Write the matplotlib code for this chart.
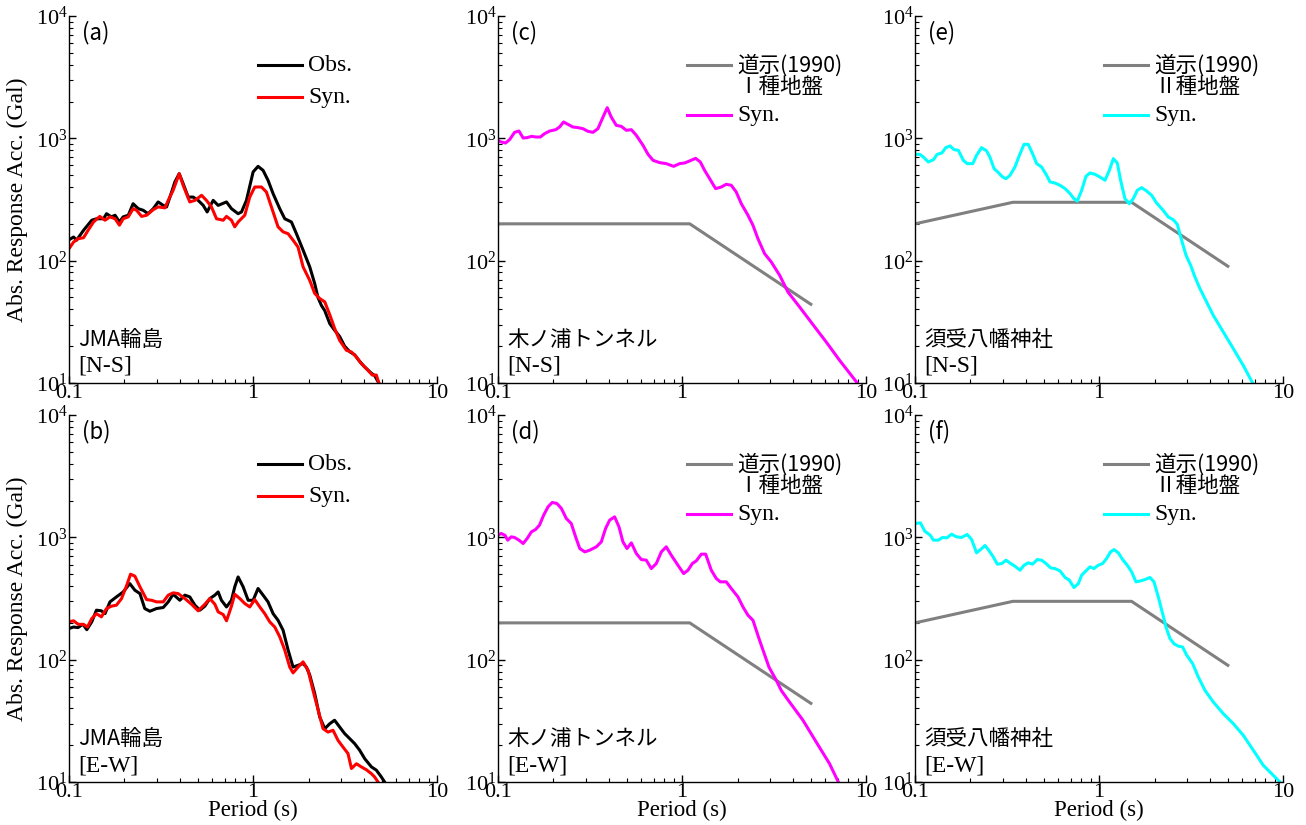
import matplotlib
matplotlib.use('Agg')
from matplotlib import pyplot as plt
from matplotlib.lines import Line2D

# ---- data (period in s, absolute response acceleration in Gal) ----
obs_a_T = [0.100, 0.106, 0.110, 0.120, 0.133, 0.141, 0.154, 0.160, 0.170, 0.178, 0.188, 0.197, 0.210, 0.223, 0.238, 0.253,
           0.269, 0.287, 0.305, 0.325, 0.339, 0.361, 0.376, 0.397, 0.417, 0.444, 0.473, 0.503, 0.536, 0.563, 0.607, 0.646,
           0.717, 0.763, 0.829, 0.865, 0.920, 1.000, 1.064, 1.133, 1.205, 1.284, 1.395, 1.486, 1.615, 1.719, 1.868, 2.03,
           2.16, 2.25, 2.35, 2.45, 2.61, 2.77, 2.95, 3.14, 3.35, 3.56, 3.79, 4.04, 4.39, 4.57, 4.83]
obs_a_S = [148, 156, 147, 177, 214, 220, 220, 242, 228, 235, 207, 228, 235, 292, 266, 258,
           242, 266, 302, 283, 275, 364, 440, 514, 426, 331, 331, 311, 283, 250, 311, 283,
           302, 266, 242, 250, 311, 531, 590, 547, 454, 353, 266, 220, 207, 166, 122, 89,
           65, 50, 43, 39, 30.5, 27, 24, 20, 18, 17, 15, 13.5, 12, 11.5, 9.9]
syn_a_T = [0.100, 0.106, 0.112, 0.120, 0.127, 0.136, 0.147, 0.157, 0.167, 0.178, 0.188, 0.197, 0.210, 0.223, 0.233, 0.248,
           0.264, 0.287, 0.305, 0.332, 0.346, 0.368, 0.397, 0.417, 0.453, 0.483, 0.525, 0.558, 0.594, 0.633, 0.688, 0.717,
           0.763, 0.795, 0.829, 0.901, 0.959, 1.021, 1.110, 1.181, 1.257, 1.366, 1.455, 1.549, 1.648, 1.754, 1.868, 2.03,
           2.16, 2.30, 2.45, 2.61, 2.77, 2.95, 3.21, 3.42, 3.64, 3.87, 4.12, 4.44, 4.67, 4.83]
syn_a_S = [125, 142, 151, 154, 177, 207, 230, 214, 228, 220, 195, 220, 228, 266, 258, 230,
           235, 261, 275, 270, 311, 376, 514, 413, 302, 311, 342, 311, 275, 220, 214, 230,
           214, 189, 207, 235, 331, 400, 400, 364, 275, 189, 172, 166, 147, 129, 89, 69,
           54, 49, 46, 36, 28, 22.3, 18.5, 17.9, 16.3, 14.4, 13.1, 11.6, 11.6, 9.9]

obs_b_T = [0.100, 0.106, 0.112, 0.119, 0.125, 0.133, 0.141, 0.150, 0.157, 0.167, 0.181, 0.197, 0.214, 0.228, 0.243, 0.258,
           0.275, 0.299, 0.325, 0.346, 0.368, 0.400, 0.426, 0.453, 0.483, 0.514, 0.547, 0.582, 0.620, 0.646, 0.673, 0.717,
           0.763, 0.795, 0.829, 0.883, 0.940, 1.000, 1.064, 1.133, 1.205, 1.284, 1.366, 1.455, 1.549, 1.648, 1.754, 1.868,
           1.947, 2.03, 2.16, 2.30, 2.45, 2.61, 2.77, 2.95, 3.14, 3.35, 3.56, 3.79, 4.04, 4.39, 4.67, 4.97, 5.18]
obs_b_S = [180, 185, 183, 195, 176, 204, 254, 251, 238, 297, 326, 358, 419, 370, 347, 262,
           249, 262, 267, 297, 343, 306, 337, 326, 279, 254, 274, 316, 337, 358, 306, 270,
           306, 394, 475, 394, 306, 306, 382, 337, 297, 238, 210, 174, 120, 87, 90, 93,
           87, 75, 53, 34, 27.3, 30, 32, 28.2, 24.9, 22.6, 20.6, 18.2, 15.5, 13.3, 12.5, 11.0, 10.0]
syn_b_T = [0.100, 0.106, 0.112, 0.120, 0.126, 0.133, 0.141, 0.150, 0.160, 0.170, 0.181, 0.193, 0.206, 0.216, 0.228, 0.243,
           0.264, 0.281, 0.299, 0.325, 0.346, 0.368, 0.392, 0.426, 0.463, 0.503, 0.547, 0.582, 0.620, 0.646, 0.688, 0.717,
           0.763, 0.795, 0.847, 0.901, 0.959, 1.021, 1.087, 1.157, 1.231, 1.311, 1.395, 1.485, 1.581, 1.648, 1.754, 1.868,
           1.988, 2.116, 2.253, 2.398, 2.552, 2.716, 2.892, 3.078, 3.276, 3.42, 3.64, 3.87, 4.12, 4.39, 4.57, 4.77]
syn_b_S = [204, 208, 195, 194, 185, 217, 238, 224, 262, 274, 279, 316, 406, 500, 482, 394,
           310, 306, 297, 297, 337, 352, 347, 316, 284, 251, 284, 316, 284, 246, 234, 208,
           274, 343, 316, 288, 270, 310, 270, 238, 204, 185, 154, 120, 87, 78, 87, 96,
           82, 56, 39, 27.3, 25.6, 26.5, 21.9, 19.3, 17.1, 12.9, 14.1, 13.3, 12.6, 11.7, 11.0, 10.0]

# 道示(1990) design spectra
code1_T = [0.1, 1.1, 5.0]
code1_S = [200, 200, 44]
code2_T = [0.1, 0.34, 1.5, 5.0]
code2_S = [200, 300, 300, 90]

syn_c_T = [0.100, 0.104, 0.110, 0.116, 0.123, 0.130, 0.137, 0.144, 0.152, 0.161, 0.170, 0.179, 0.191, 0.206, 0.216, 0.227,
           0.240, 0.255, 0.272, 0.289, 0.308, 0.328, 0.349, 0.372, 0.392, 0.412, 0.439, 0.467, 0.498, 0.530, 0.564, 0.613,
           0.653, 0.695, 0.755, 0.820, 0.899, 0.969, 1.032, 1.098, 1.184, 1.255, 1.325, 1.411, 1.520, 1.632, 1.737, 1.849,
           1.968, 2.096, 2.278, 2.425, 2.581, 2.805, 3.049, 3.384, 3.756, 4.345, 5.133, 6.064, 7.166, 8.935]
syn_c_S = [963, 933, 916, 981, 1119, 1148, 1006, 1013, 1038, 1025, 1025, 1092, 1148, 1177, 1238, 1360,
           1301, 1238, 1223, 1200, 1141, 1119, 1200, 1494, 1781, 1494, 1277, 1253, 1163, 1177, 1058, 877,
           740, 661, 633, 621, 590, 621, 629, 653, 686, 641, 547, 468, 388, 400, 421, 413,
           364, 292, 235, 194.5, 151, 114, 97.5, 76, 55.4, 41.8, 30, 21.6, 15.3, 10]

syn_d_T = [0.100, 0.104, 0.109, 0.113, 0.118, 0.123, 0.130, 0.137, 0.144, 0.152, 0.160, 0.168, 0.177, 0.187, 0.197, 0.209,
           0.221, 0.235, 0.250, 0.264, 0.278, 0.296, 0.315, 0.342, 0.364, 0.384, 0.404, 0.430, 0.454, 0.477, 0.502, 0.530,
           0.564, 0.600, 0.639, 0.680, 0.724, 0.771, 0.820, 0.873, 0.949, 1.019, 1.076, 1.136, 1.194, 1.271, 1.342, 1.440,
           1.533, 1.612, 1.737, 1.849, 2.01, 2.14, 2.278, 2.425, 2.614, 2.748, 2.962, 3.245, 3.455, 3.834, 4.53, 5.35,
           6.32, 7.05]
syn_d_S = [1042, 1076, 1042, 949, 1010, 998, 949, 891, 979, 1110, 1160, 1258, 1519, 1777, 1929, 1893,
           1723, 1427, 1298, 1010, 811, 761, 786, 837, 919, 1182, 1383, 1472, 1220, 919, 811, 902,
           738, 659, 651, 556, 611, 761, 837, 715, 592, 506, 539, 611, 643, 729, 729, 539,
           461, 433, 433, 382, 326, 270, 231, 210, 149, 120, 87, 68, 56, 45, 32, 21.2,
           14.1, 10]

syn_e_T = [0.100, 0.106, 0.111, 0.118, 0.126, 0.132, 0.140, 0.147, 0.155, 0.163, 0.172, 0.183, 0.192, 0.206, 0.216, 0.230,
           0.245, 0.255, 0.269, 0.284, 0.299, 0.312, 0.328, 0.349, 0.369, 0.391, 0.412, 0.435, 0.458, 0.487, 0.519, 0.541,
           0.576, 0.613, 0.653, 0.695, 0.730, 0.761, 0.804, 0.848, 0.892, 0.949, 1.010, 1.076, 1.136, 1.194, 1.255, 1.308,
           1.381, 1.459, 1.533, 1.612, 1.701, 1.811, 1.928, 2.052, 2.212, 2.375, 2.528, 2.658, 2.805, 2.962, 3.140, 3.315,
           3.528, 3.834, 4.168, 4.724, 5.352, 6.064, 6.815]
syn_e_S = [740, 740, 704, 641, 669, 740, 759, 839, 866, 808, 798, 661, 621, 621, 726, 839,
           788, 704, 565, 524, 483, 468, 498, 583, 726, 893, 893, 749, 621, 583, 498, 440,
           431, 413, 388, 353, 321, 307, 376, 489, 521, 508, 483, 454, 547, 682, 629, 454,
           321, 292, 321, 376, 395, 371, 342, 296, 261, 227.5, 216, 198, 147, 111, 91.6, 73.5,
           59, 45.9, 35.7, 26.1, 19.1, 13.9, 10]

syn_f_T = [0.100, 0.107, 0.113, 0.121, 0.126, 0.134, 0.141, 0.149, 0.158, 0.168, 0.179, 0.192, 0.203, 0.216, 0.227, 0.240,
           0.250, 0.266, 0.280, 0.296, 0.312, 0.331, 0.349, 0.372, 0.391, 0.412, 0.435, 0.462, 0.487, 0.515, 0.546, 0.576,
           0.613, 0.653, 0.689, 0.730, 0.771, 0.804, 0.848, 0.892, 0.937, 0.990, 1.045, 1.098, 1.154, 1.204, 1.271, 1.342,
           1.422, 1.502, 1.585, 1.680, 1.774, 1.888, 1.985, 2.096, 2.212, 2.307, 2.425, 2.549, 2.691, 2.841, 2.987, 3.219,
           3.455, 3.756, 4.168, 4.724, 5.352, 6.064, 6.873, 7.786, 9.59]
syn_f_S = [1298, 1315, 1124, 1042, 949, 949, 998, 991, 1062, 1010, 998, 1056, 961, 747, 795, 858,
           795, 693, 604, 611, 651, 611, 581, 539, 592, 619, 604, 659, 651, 611, 563, 556,
           532, 470, 447, 389, 419, 491, 532, 574, 556, 592, 611, 672, 761, 795, 747, 659,
           592, 522, 433, 441, 452, 470, 433, 326, 238, 185, 149, 135, 129, 127, 109, 93,
           72.3, 56.2, 45.1, 36.2, 30.0, 24.1, 18.2, 13.7, 10]

panel_tags = ['(a)', '(b)', '(c)', '(d)', '(e)', '(f)']
stations = ['JMA輪島', 'JMA輪島', '木ノ浦トンネル', '木ノ浦トンネル', '須受八幡神社', '須受八幡神社']
components = ['[N-S]', '[E-W]', '[N-S]', '[E-W]', '[N-S]', '[E-W]']

SERIF = 'Liberation Serif'
JP = ['Noto Sans CJK JP', 'DejaVu Sans']
GRAY = '#808080'
LW = 2.2


def key(ax, y, color, label, family, size):
    ax.add_line(Line2D([0.514, 0.633], [y, y], transform=ax.transAxes,
                       color=color, lw=LW, clip_on=False))
    ax.text(0.650, y, label, transform=ax.transAxes, va='center', ha='left',
            family=family, fontsize=size)


def main():
    plt.rcParams['font.family'] = SERIF
    plt.rcParams['mathtext.fontset'] = 'custom'
    plt.rcParams['mathtext.rm'] = SERIF
    plt.rcParams['axes.linewidth'] = 1.0

    fig = plt.figure(figsize=(13.06, 8.25), dpi=100)
    lefts = [0.0528, 0.3813, 0.7006]
    bottoms = [0.5358, 0.0521]
    w, h = 0.2820, 0.4448

    # series per panel
    curves = [
        [(obs_a_T, obs_a_S, 'black'), (syn_a_T, syn_a_S, 'red')],
        [(obs_b_T, obs_b_S, 'black'), (syn_b_T, syn_b_S, 'red')],
        [(code1_T, code1_S, GRAY), (syn_c_T, syn_c_S, 'magenta')],
        [(code1_T, code1_S, GRAY), (syn_d_T, syn_d_S, 'magenta')],
        [(code2_T, code2_S, GRAY), (syn_e_T, syn_e_S, 'cyan')],
        [(code2_T, code2_S, GRAY), (syn_f_T, syn_f_S, 'cyan')],
    ]

    for i in range(6):
        col, row = i // 2, i % 2
        ax = fig.add_axes([lefts[col], bottoms[row], w, h])
        for T, S, c in curves[i]:
            ax.plot(T, S, color=c, lw=LW, solid_joinstyle='round')
        ax.set_xscale('log')
        ax.set_yscale('log')
        ax.set_xlim(0.1, 10)
        ax.set_ylim(10, 1e4)
        ax.set_xticks([0.1, 1, 10])
        ax.set_xticklabels(['0.1', '1', '10'])
        ax.spines['top'].set_visible(False)
        ax.spines['right'].set_visible(False)
        ax.tick_params(which='both', direction='in', labelsize=16)
        ax.tick_params(which='major', length=5, width=1)
        ax.tick_params(which='minor', length=3, width=0.8)
        ax.tick_params(axis='x', pad=0.5)
        ax.tick_params(axis='y', pad=1)

        if col == 0:
            ax.set_ylabel('Abs. Response Acc. (Gal)', fontsize=17)
            ax.yaxis.set_label_coords(-0.112, 0.5)
        if row == 1:
            ax.set_xlabel('Period (s)', fontsize=16.5)
            ax.xaxis.set_label_coords(0.5, -0.048)

        ax.text(0.035, 0.956, panel_tags[i], transform=ax.transAxes,
                va='center', ha='left', family=JP, fontsize=16)
        ax.text(0.025, 0.116, stations[i], transform=ax.transAxes,
                va='center', ha='left', family=JP, fontsize=15.5)
        ax.text(0.025, 0.045, components[i], transform=ax.transAxes,
                va='center', ha='left', family=SERIF, fontsize=17)

        if col == 0:
            key(ax, 0.866, 'black', 'Obs.', SERIF, 17)
            key(ax, 0.779, 'red', 'Syn.', SERIF, 17)
        else:
            key(ax, 0.866, GRAY, '道示(1990)', JP, 15.5)
            ax.text(0.650, 0.806, 'Ⅰ種地盤' if col == 1 else 'Ⅱ種地盤',
                    transform=ax.transAxes, va='center', ha='left',
                    family=JP, fontsize=15.5)
            key(ax, 0.730, curves[i][1][2], 'Syn.', SERIF, 17)

    fig.savefig('out.png', dpi=100)


if __name__ == '__main__':
    main()
